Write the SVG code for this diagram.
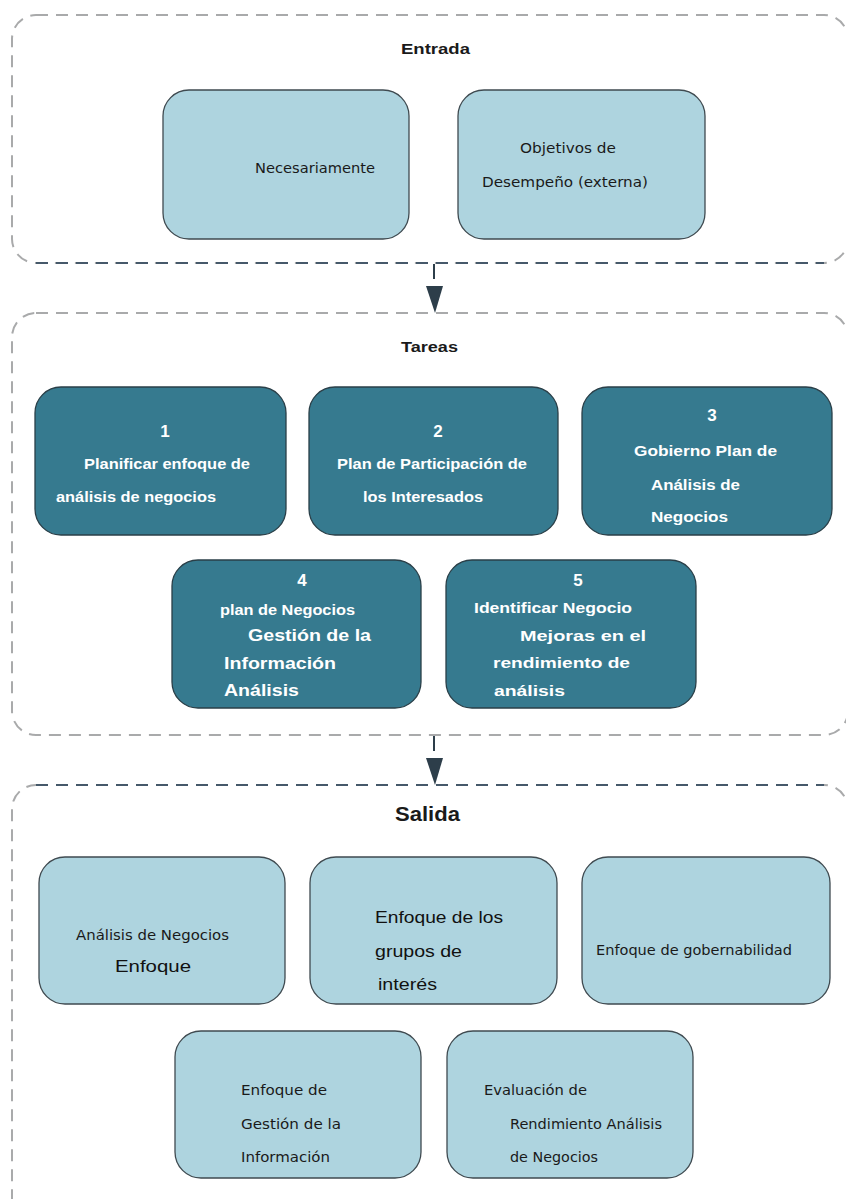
<svg xmlns="http://www.w3.org/2000/svg" width="846" height="1199" viewBox="0 0 846 1199">
<defs>
<style>
.cont{fill:none;stroke:#a9aaab;stroke-width:2;stroke-dasharray:12 8}
.dark{fill:none;stroke:#46596a;stroke-width:2;stroke-dasharray:12 8}
.lb{fill:#aed4df;stroke:#3f4a50;stroke-width:1.3}
.tk{fill:#367a8f;stroke:#2a3f48;stroke-width:1.3}
.hd{font-family:"Liberation Sans",Arial,sans-serif;font-size:15px;font-weight:bold;fill:#1a1a1a}
.wt{font-family:"Liberation Sans",Arial,sans-serif;font-size:14px;font-weight:bold;fill:#fff}
.num{font-family:"Liberation Sans",Arial,sans-serif;font-size:17px;font-weight:bold;fill:#fff;text-anchor:middle}
.nr{font-family:"Liberation Sans Narrow","DejaVu Sans Condensed","Liberation Sans",sans-serif;font-size:14px;fill:#1a1a1a}
.rg{font-family:"Liberation Sans",Arial,sans-serif;font-size:16px;fill:#111}
.conn{stroke:#2d3e4a;stroke-width:2;fill:none}
</style>
</defs>

<g id="entrada">
<rect class="cont" x="12" y="15" width="836" height="248" rx="24"/>
<path class="dark" d="M36,263 H824"/>
<text class="hd" x="401" y="54" textLength="69" lengthAdjust="spacingAndGlyphs">Entrada</text>
</g>
<g id="tareas">
<rect class="cont" x="12" y="313" width="836" height="422" rx="24"/>
<text class="hd" x="401" y="352" textLength="57" lengthAdjust="spacingAndGlyphs">Tareas</text>
</g>
<g id="salida">
<rect class="cont" x="12" y="785" width="836" height="440" rx="24"/>
<path class="dark" d="M36,785 H824"/>
<text class="hd" x="395" y="821" style="font-size:21px" textLength="65" lengthAdjust="spacingAndGlyphs">Salida</text>
</g>

<g id="connectors">
<path class="conn" d="M434,264 V279"/>
<path d="M426,286 L443,286 L435,313 z" fill="#2d3e4a"/>
<path class="conn" d="M434,736 V751"/>
<path d="M426,758 L443,758 L435,785 z" fill="#2d3e4a"/>
</g>

<g id="in1">
<rect class="lb" x="163" y="90" width="246" height="149" rx="26"/>
<text class="nr" x="255" y="173" textLength="120" lengthAdjust="spacingAndGlyphs">Necesariamente</text>
</g>
<g id="in2">
<rect class="lb" x="458" y="90" width="247" height="149" rx="26"/>
<text class="nr" x="520" y="153" textLength="96" lengthAdjust="spacingAndGlyphs">Objetivos de</text>
<text class="nr" x="482" y="187" textLength="166" lengthAdjust="spacingAndGlyphs">Desempeño (externa)</text>
</g>

<g id="t1">
<rect class="tk" x="35" y="387" width="251" height="148" rx="26"/>
<text class="num" x="165" y="437">1</text>
<text class="wt" x="84" y="469" textLength="166" lengthAdjust="spacingAndGlyphs">Planificar enfoque de</text>
<text class="wt" x="56" y="502" textLength="160" lengthAdjust="spacingAndGlyphs">análisis de negocios</text>
</g>
<g id="t2">
<rect class="tk" x="309" y="387" width="249" height="148" rx="26"/>
<text class="num" x="438" y="437">2</text>
<text class="wt" x="337" y="469" textLength="190" lengthAdjust="spacingAndGlyphs">Plan de Participación de</text>
<text class="wt" x="363" y="502" textLength="120" lengthAdjust="spacingAndGlyphs">los Interesados</text>
</g>
<g id="t3">
<rect class="tk" x="582" y="387" width="250" height="148" rx="26"/>
<text class="num" x="712" y="421">3</text>
<text class="wt" x="634" y="456" textLength="143" lengthAdjust="spacingAndGlyphs">Gobierno Plan de</text>
<text class="wt" x="651" y="490" textLength="89" lengthAdjust="spacingAndGlyphs">Análisis de</text>
<text class="wt" x="651" y="522" textLength="77" lengthAdjust="spacingAndGlyphs">Negocios</text>
</g>
<g id="t4">
<rect class="tk" x="172" y="560" width="249" height="148" rx="26"/>
<text class="num" x="302" y="586">4</text>
<text class="wt" x="220" y="615" textLength="135" lengthAdjust="spacingAndGlyphs">plan de Negocios</text>
<text class="wt" x="248" y="641" style="font-size:17px" textLength="123" lengthAdjust="spacingAndGlyphs">Gestión de la</text>
<text class="wt" x="224" y="669" style="font-size:17px" textLength="112" lengthAdjust="spacingAndGlyphs">Información</text>
<text class="wt" x="224" y="696" style="font-size:17px" textLength="75" lengthAdjust="spacingAndGlyphs">Análisis</text>
</g>
<g id="t5">
<rect class="tk" x="446" y="560" width="250" height="148" rx="26"/>
<text class="num" x="578" y="586">5</text>
<text class="wt" x="474" y="613" textLength="158" lengthAdjust="spacingAndGlyphs">Identificar Negocio</text>
<text class="wt" x="520" y="641" style="font-size:15px" textLength="126" lengthAdjust="spacingAndGlyphs">Mejoras en el</text>
<text class="wt" x="493" y="668" style="font-size:15px" textLength="137" lengthAdjust="spacingAndGlyphs">rendimiento de</text>
<text class="wt" x="494" y="696" style="font-size:15px" textLength="71" lengthAdjust="spacingAndGlyphs">análisis</text>
</g>

<g id="o1">
<rect class="lb" x="39" y="857" width="246" height="147" rx="26"/>
<text class="nr" x="76" y="940" textLength="153" lengthAdjust="spacingAndGlyphs">Análisis de Negocios</text>
<text class="rg" x="115" y="972" textLength="76" lengthAdjust="spacingAndGlyphs">Enfoque</text>
</g>
<g id="o2">
<rect class="lb" x="310" y="857" width="247" height="147" rx="26"/>
<text class="rg" x="375" y="923" textLength="128" lengthAdjust="spacingAndGlyphs">Enfoque de los</text>
<text class="rg" x="375" y="957" textLength="87" lengthAdjust="spacingAndGlyphs">grupos de</text>
<text class="rg" x="378" y="990" textLength="59" lengthAdjust="spacingAndGlyphs">interés</text>
</g>
<g id="o3">
<rect class="lb" x="582" y="857" width="248" height="147" rx="26"/>
<text class="nr" x="596" y="955" textLength="196" lengthAdjust="spacingAndGlyphs">Enfoque de gobernabilidad</text>
</g>
<g id="o4">
<rect class="lb" x="175" y="1031" width="246" height="147" rx="26"/>
<text class="nr" x="241" y="1095" textLength="86" lengthAdjust="spacingAndGlyphs">Enfoque de</text>
<text class="nr" x="241" y="1129" textLength="100" lengthAdjust="spacingAndGlyphs">Gestión de la</text>
<text class="nr" x="241" y="1162" textLength="89" lengthAdjust="spacingAndGlyphs">Información</text>
</g>
<g id="o5">
<rect class="lb" x="447" y="1031" width="246" height="147" rx="26"/>
<text class="nr" x="484" y="1095" textLength="103" lengthAdjust="spacingAndGlyphs">Evaluación de</text>
<text class="nr" x="510" y="1129" textLength="152" lengthAdjust="spacingAndGlyphs">Rendimiento Análisis</text>
<text class="nr" x="510" y="1162" textLength="88" lengthAdjust="spacingAndGlyphs">de Negocios</text>
</g>
</svg>
